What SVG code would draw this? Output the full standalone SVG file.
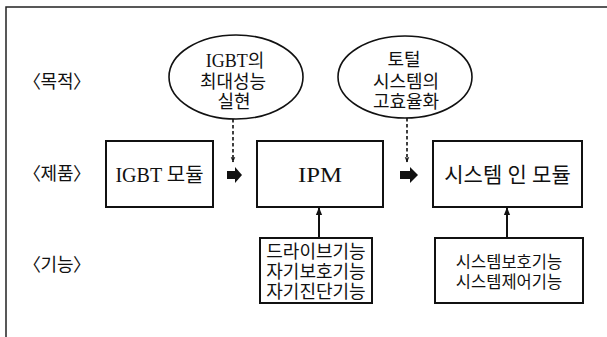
<svg xmlns="http://www.w3.org/2000/svg" width="607" height="337" viewBox="0 0 607 337">
<style>
text{font-family:"Liberation Serif","Noto Sans CJK KR",serif;fill:#111;text-anchor:middle}
.lbl{font-size:18px}
.lb{font-size:18px;text-anchor:end}
.rb{font-size:18px;text-anchor:start}
.box{fill:#fff;stroke:#111;stroke-width:2}
.ell{fill:#fff;stroke:#111;stroke-width:1.6}
.dash{stroke:#111;stroke-width:1.6;stroke-dasharray:3.5 2.5;fill:none}
.solid{stroke:#111;stroke-width:2;fill:none}
.t{font-size:20px}
.e{font-size:18px}
</style>
<defs>
<marker id="ah" viewBox="0 0 10 10" refX="9" refY="5" markerWidth="6" markerHeight="6" markerUnits="userSpaceOnUse" orient="auto"><path d="M0,1 L10,5 L0,9 L3,5 z" fill="#111"/></marker>
<marker id="ah2" viewBox="0 0 10 10" refX="9" refY="5" markerWidth="8" markerHeight="8" markerUnits="userSpaceOnUse" orient="auto"><path d="M0,1 L10,5 L0,9 z" fill="#111"/></marker>
</defs>
<rect width="607" height="337" fill="#fff"/>
<g id="frame"><path d="M6,337 V7 H607" fill="none" stroke="#222" stroke-width="1.5"/></g>
<g id="labels">
<text class="lb" x="41" y="88">〈</text><text class="lbl" x="57" y="88">목적</text><text class="rb" x="73" y="88">〉</text>
<text class="lb" x="41" y="180">〈</text><text class="lbl" x="57" y="180">제품</text><text class="rb" x="73" y="180">〉</text>
<text class="lb" x="41" y="271">〈</text><text class="lbl" x="57" y="271">기능</text><text class="rb" x="73" y="271">〉</text>
</g>
<g id="goal1">
<ellipse class="ell" cx="236" cy="77" rx="67" ry="42"/>
<text class="e" x="235" y="67">IGBT의</text>
<text class="e" x="233" y="88">최대성능</text>
<text class="e" x="234" y="108">실현</text>
</g>
<g id="goal2">
<ellipse class="ell" cx="405" cy="77" rx="67" ry="41"/>
<text class="e" x="404" y="66">토털</text>
<text class="e" x="406" y="88">시스템의</text>
<text class="e" x="406" y="108">고효율화</text>
</g>
<g id="igbt">
<rect class="box" x="106" y="141" width="107" height="66"/>
<text class="t" x="159.5" y="182">IGBT 모듈</text>
</g>
<g id="ipm">
<rect class="box" x="257" y="141" width="126" height="66"/>
<text class="t" x="320" y="182" textLength="44" lengthAdjust="spacingAndGlyphs">IPM</text>
</g>
<g id="sysmod">
<rect class="box" x="433" y="141" width="149" height="66"/>
<text class="t" x="507.5" y="182" style="font-size:21px">시스템 인 모듈</text>
</g>
<g id="func1">
<rect class="box" x="260" y="238" width="112" height="65"/>
<text class="e" x="316" y="258">드라이브기능</text>
<text class="e" x="316" y="278">자기보호기능</text>
<text class="e" x="316" y="298">자기진단기능</text>
</g>
<g id="func2">
<rect class="box" x="435" y="238" width="148" height="65"/>
<text style="font-size:16.5px" x="509" y="268">시스템보호기능</text>
<text style="font-size:16.5px" x="509" y="288">시스템제어기능</text>
</g>
<g id="connectors">
<path class="dash" d="M233,119 V162" marker-end="url(#ah)"/>
<path class="dash" d="M407,118 V162" marker-end="url(#ah)"/>
<path d="M227,171 H235 V167 L242,175 L235,183 V179 H227 z" fill="#111"/>
<path d="M400,171 H410 V167 L418,175 L410,183 V179 H400 z" fill="#111"/>
<path class="solid" d="M319,238 V208" marker-end="url(#ah2)"/>
<path class="solid" d="M507,238 V208" marker-end="url(#ah2)"/>
</g>
</svg>
